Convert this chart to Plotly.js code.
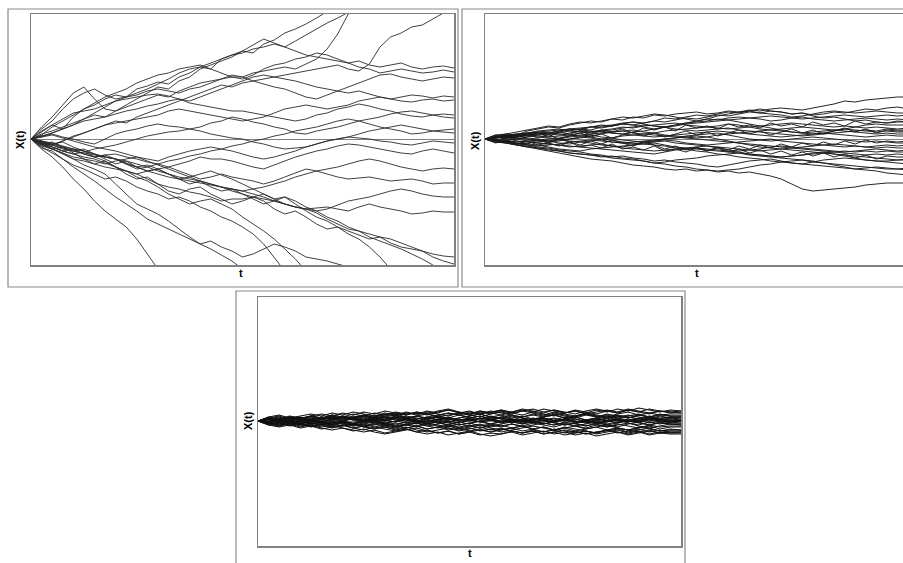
<!DOCTYPE html>
<html><head><meta charset="utf-8">
<script src="https://cdn.plot.ly/plotly-3.0.1.min.js"></script>
<style>html,body{margin:0;padding:0;background:#fff}#c{width:903px;height:563px}</style>
</head><body><div id="c"></div>
<script>
// time grid (t, arbitrary units 0..100)
const tGrid = [0,2.5,5,7.5,10,12.5,15,17.5,20,22.5,25,27.5,30,32.5,35,37.5,40,42.5,45,47.5,50,52.5,55,57.5,60,62.5,65,67.5,70,72.5,75,77.5,80,82.5,85,87.5,90,92.5,95,97.5,100];

// Panel 1: widest spread (values read in pixel-like units, 0 = start level)
const panel1Paths = [
 [0,8,14,10,22,30,34,40,44,42,50,53,57,55,62,66,72,70,80,84,88,86,95,99,106,110,115,121,128,134,140],
 [0,12,22,34,46,52,40,30,28,34,40,46,52,50,58,62,70,74,78,82,88,94,100,96,92,98,104,110,116,121,127,132,138],
 [0,5,8,12,16,20,24,22,28,32,36,40,44,42,48,52,56,58,60,64,62,66,68,70,72,70,75,80,90,105,125,135],
 [0,-6,-6,-2,3,6,10,14,18,16,22,26,30,34,38,42,46,50,54,52,56,58,60,62,64,66,68,70,72,74,70,68,75,92,102,106,112,114,120,126,134],
 [0,10,18,30,40,46,50,44,40,42,46,50,55,60,66,70,72,76,80,84,86,90,92,95,92,88,84,82,80,78,76,78,74,72,74,76,72,70,72,73,71],
 [0,4,12,18,24,30,36,42,46,50,56,60,64,66,70,72,74,70,66,62,60,64,70,74,76,80,82,86,84,80,76,72,70,66,68,70,68,66,67,69,67],
 [0,7,14,20,26,28,30,34,38,42,44,48,50,48,46,50,52,56,60,62,62,58,55,52,50,46,42,40,44,48,52,56,60,64,65,62,60,58,60,62,61],
 [0,2,6,10,14,18,20,22,25,28,30,33,35,38,40,38,42,46,50,54,58,62,64,62,60,58,55,52,50,48,46,48,45,42,40,42,44,43,41,43,42],
 [0,-4,-6,-2,2,6,10,14,16,18,20,22,24,28,30,28,26,24,22,20,18,20,22,26,30,32,34,32,30,32,34,38,40,42,40,38,37,39,40,38,39],
 [0,3,6,10,14,20,26,32,38,40,42,44,45,43,40,36,34,32,30,28,28,26,24,22,20,18,20,24,26,30,32,35,33,30,28,25,23,22,24,25,24],
 [0,-5,-8,-12,-15,-13,-10,-8,-6,-3,0,3,5,7,8,10,12,16,18,22,20,17,15,12,10,6,5,8,10,12,15,18,20,22,25,27,28,26,24,22,21],
 [0,-2,-6,-9,-12,-15,-18,-16,-15,-18,-20,-23,-25,-22,-20,-17,-15,-12,-10,-7,-5,-2,0,3,5,8,10,12,15,18,20,18,15,12,10,8,5,6,8,7,6],
 [0,3,5,2,0,-3,-5,0,5,8,10,13,15,13,12,10,8,5,3,1,0,-3,-5,-8,-10,-9,-8,-5,-2,0,2,1,0,-2,-3,-5,-6,-4,-2,-3,-4],
 [0,-4,-8,-12,-15,-18,-20,-24,-28,-32,-35,-32,-30,-28,-25,-22,-18,-20,-20,-22,-25,-28,-30,-26,-22,-18,-15,-12,-10,-7,-5,-6,-8,-10,-12,-14,-15,-12,-10,-12,-14],
 [0,-3,-5,-8,-10,-12,-15,-18,-20,-25,-30,-28,-25,-28,-32,-36,-40,-38,-35,-38,-40,-42,-45,-42,-38,-34,-30,-32,-35,-38,-40,-39,-38,-40,-42,-41,-40,-42,-45,-44,-44],
 [0,-7,-10,-15,-20,-22,-25,-28,-30,-32,-35,-40,-45,-48,-50,-53,-55,-58,-62,-60,-60,-58,-55,-60,-65,-68,-70,-69,-68,-70,-72,-68,-65,-68,-70,-72,-75,-74,-72,-73,-73],
 [0,-6,-10,-8,-14,-20,-25,-22,-28,-35,-40,-38,-45,-52,-55,-50,-48,-55,-60,-65,-62,-58,-62,-70,-75,-72,-78,-85,-90,-88,-92,-96,-100,-98,-104,-108,-110,-112,-115,-117,-118],
 [0,-10,-18,-28,-40,-50,-62,-72,-80,-88,-100,-115,-130],
 [0,-4,-10,-14,-20,-26,-30,-35,-45,-55,-65,-70,-75,-82,-90,-98,-105,-110,-116,-122,-130],
 [0,-8,-14,-20,-26,-30,-35,-40,-38,-42,-48,-52,-55,-60,-58,-62,-68,-72,-78,-82,-88,-95,-105,-118,-132],
 [0,-2,-5,-3,-8,-12,-18,-22,-28,-32,-38,-42,-48,-55,-60,-65,-62,-60,-65,-70,-78,-85,-92,-100,-110,-120,-132],
 [0,-5,-3,-8,-12,-10,-15,-20,-25,-22,-28,-32,-30,-35,-40,-45,-42,-48,-52,-50,-55,-60,-65,-62,-58,-65,-72,-78,-82,-88,-95,-100,-108,-118,-130],
 [0,-3,-8,-12,-10,-15,-18,-16,-20,-25,-28,-26,-30,-35,-40,-38,-35,-32,-36,-40,-45,-50,-55,-60,-58,-62,-68,-72,-78,-82,-88,-92,-98,-102,-106,-110,-115,-120,-126,-132],
 [0,-9,-12,-20,-28,-35,-42,-50,-58,-65,-72,-80,-85,-90,-95,-100,-105,-102,-108,-112,-118,-115,-110,-105,-108,-112,-118,-120,-122,-125,-128,-132],
 [0,-5,-10,-14,-18,-20,-22,-25,-22,-20,-18,-22,-26,-30,-34,-38,-42,-45,-48,-50,-52,-50,-48,-45,-42,-38,-35,-32,-30,-28,-25,-22,-20,-22,-25,-28,-30,-32,-30,-29,-30],
 [0,-3,-6,-10,-12,-14,-16,-18,-20,-24,-28,-32,-35,-38,-40,-42,-44,-46,-48,-50,-52,-55,-58,-62,-65,-68,-70,-72,-70,-66,-62,-60,-58,-55,-52,-50,-52,-55,-57,-58,-58],
 [0,2,4,1,-2,-5,-8,-10,-12,-15,-18,-20,-22,-18,-15,-12,-10,-8,-10,-12,-15,-18,-20,-18,-15,-12,-8,-5,-2,0,2,5,8,10,12,14,12,10,8,9,10],
 [0,-2,-4,-7,-10,-12,-15,-18,-20,-22,-25,-28,-32,-35,-38,-40,-42,-45,-48,-52,-55,-58,-60,-62,-65,-68,-70,-74,-80,-85,-90,-92,-95,-98,-100,-104,-108,-112,-118,-122,-125]
];

// Panel 2: medium spread
const panel2Paths = [
 [0,3,5,4,8,10,12,11,14,16,18,17,20,19,22,21,24,23,25,26,27,25,26,28,27,29,28,30,31,30,29,31,33,35,38,37,39,40,41,42,42],
 [0,-3,-4,-6,-8,-10,-12,-14,-16,-18,-20,-21,-22,-24,-26,-27,-28,-30,-31,-30,-32,-31,-33,-32,-34,-33,-35,-37,-40,-45,-50,-52,-51,-50,-49,-48,-46,-45,-44,-44,-44],
 [0,4,5,7,9,11,13,12,15,17,16,18,20,22,21,23,25,24,22,20,18,20,23,25,27,28,26,25,24,22,23,25,27,28,27,26,27,28,27,26,26],
 [0,1,3,2,4,6,5,7,9,10,12,11,13,15,14,12,10,12,14,16,18,20,19,21,22,21,20,18,19,21,22,20,19,18,19,20,21,20,19,20,19],
 [0,-1,-2,0,2,4,5,4,6,8,7,9,10,12,11,13,14,15,16,14,13,12,11,10,11,12,13,14,15,16,15,14,13,12,13,12,11,12,11,10,11],
 [0,2,4,3,1,0,-2,-4,-5,-3,-2,0,1,3,4,5,6,8,9,10,11,12,13,15,14,12,10,9,8,7,6,7,8,9,10,9,8,7,8,7,7],
 [0,-2,-3,-5,-4,-3,-2,-1,0,2,1,-1,-3,-4,-5,-3,-2,0,1,3,4,5,6,4,2,0,-1,-2,-1,0,1,2,1,0,-1,-2,-3,-2,-3,-4,-4],
 [0,1,2,0,-2,-4,-5,-6,-8,-7,-6,-5,-7,-9,-10,-11,-12,-11,-10,-9,-8,-7,-9,-11,-12,-11,-10,-8,-7,-8,-9,-10,-11,-12,-13,-12,-11,-10,-11,-12,-11],
 [0,-2,-3,-5,-6,-8,-9,-11,-12,-13,-15,-16,-18,-17,-19,-20,-22,-21,-23,-24,-25,-27,-28,-26,-24,-22,-21,-20,-22,-24,-25,-23,-21,-20,-19,-20,-21,-22,-22,-21,-21],
 [0,2,3,4,5,6,7,5,4,3,2,0,-1,-3,-4,-5,-6,-7,-9,-10,-12,-13,-15,-16,-18,-19,-20,-22,-23,-24,-25,-26,-27,-28,-29,-30,-29,-28,-29,-30,-29],
 [0,-3,-4,-6,-7,-9,-10,-12,-14,-15,-16,-17,-19,-20,-21,-22,-24,-25,-27,-28,-30,-31,-32,-31,-30,-28,-26,-25,-23,-22,-21,-22,-24,-26,-28,-30,-31,-32,-34,-35,-36],
 [0,1,2,3,4,5,6,8,10,11,12,13,14,16,17,15,13,12,14,16,17,18,20,19,17,15,13,11,9,7,6,5,6,8,10,12,14,15,14,14,14],
 [0,-1,-2,-3,-2,-1,0,1,3,4,5,6,7,8,6,5,4,3,2,1,0,-1,-2,-3,-4,-5,-6,-7,-8,-9,-10,-11,-12,-13,-14,-15,-16,-15,-16,-15,-16],
 [0,2,3,4,6,7,8,9,10,9,8,7,6,5,4,3,2,3,4,5,6,7,8,7,6,5,4,3,2,3,4,5,6,5,4,3,2,3,4,3,3],
 [0,-2,-3,-2,-3,-4,-5,-6,-7,-8,-9,-10,-11,-12,-13,-14,-15,-13,-11,-10,-9,-10,-11,-12,-13,-15,-16,-17,-18,-17,-16,-14,-13,-15,-17,-19,-21,-22,-23,-24,-25],
 [0,2,4,3,5,7,6,8,10,9,12,14,13,15,17,16,18,21,20,22,24,23,25,27,26,28,30,28,27,25,26,23,21,22,20,18,19,17,16,17,17],
 [0,-1,-2,-4,-5,-6,-8,-10,-11,-12,-10,-9,-8,-7,-6,-4,-3,-2,-4,-5,-6,-7,-8,-9,-10,-11,-12,-11,-10,-9,-8,-7,-6,-5,-6,-7,-8,-7,-6,-7,-6],
 [0,1,2,1,0,-1,-2,0,2,3,4,2,1,-1,-2,-3,-2,-1,-2,-4,-5,-6,-5,-4,-3,-2,-1,0,-2,-3,-4,-5,-6,-7,-8,-7,-8,-9,-8,-9,-9],
 [0,-2,-4,-6,-8,-9,-11,-12,-14,-15,-16,-18,-17,-19,-20,-22,-24,-23,-21,-20,-19,-17,-16,-15,-14,-16,-17,-18,-19,-20,-21,-23,-24,-25,-26,-27,-28,-29,-30,-30,-31],
 [0,2,4,5,6,4,5,6,8,10,9,12,13,15,14,16,18,17,19,21,20,22,24,23,25,27,26,28,27,25,26,24,25,27,26,28,30,29,31,32,30],
 [0,-1,1,2,3,2,1,0,-2,-3,-4,-6,-7,-8,-6,-5,-4,-6,-8,-9,-10,-11,-12,-13,-14,-15,-16,-17,-18,-17,-16,-15,-14,-13,-12,-13,-12,-13,-12,-13,-13],
 [0,2,3,1,0,-2,-3,-2,0,1,3,5,7,8,9,7,6,4,3,2,1,2,4,5,6,7,8,9,10,11,12,11,10,9,8,7,6,5,6,5,5],
 [0,1,3,5,6,8,9,10,8,7,6,8,9,11,12,14,13,12,10,9,8,9,10,11,9,8,7,6,5,4,3,4,5,6,7,8,9,8,10,9,9],
 [0,-1,-3,-4,-6,-7,-6,-5,-3,-2,-1,-2,-3,-4,-3,-2,-1,0,1,2,3,2,0,-2,-4,-6,-8,-9,-10,-11,-12,-13,-14,-15,-16,-17,-18,-19,-20,-21,-20],
 [0,2,1,3,4,3,2,3,4,6,7,8,6,5,7,8,10,12,13,15,16,17,18,19,20,21,22,23,22,21,20,21,22,23,24,23,22,23,24,23,24],
 [0,4,1,5,3,6,2,7,5,8,4,9,7,10,6,11,9,12,8,14,11,13,10,15,12,14,11,16,13,15,12,17,14,16,13,18,15,17,16,18,17],
 [0,-4,-1,-5,-2,-6,-4,-7,-3,-8,-6,-9,-5,-10,-8,-11,-7,-12,-10,-13,-9,-12,-8,-11,-7,-10,-6,-9,-5,-8,-4,-7,-3,-6,-2,-5,-1,-4,-2,-3,-2],
 [0,3,-1,2,5,1,4,0,3,6,2,5,1,4,7,3,6,2,5,8,4,7,3,6,9,5,8,4,7,10,6,9,5,8,11,7,10,6,9,8,8],
 [0,-3,1,-2,-5,-1,-4,0,-3,-6,-2,-5,-1,-4,-7,-3,-6,-10,-7,-11,-8,-12,-9,-13,-10,-14,-11,-15,-12,-16,-13,-17,-14,-18,-15,-19,-16,-20,-17,-18,-18]
];

// Panel 3: narrow spread
const panel3Paths = [
 [0,3,1,4,2,5,3,6,4,7,5,8,6,9,7,8,6,9,11,8,10,7,9,11,8,10,12,9,11,8,10,7,9,11,9,12,10,8,10,9,8],
 [0,-3,-1,-4,-2,-5,-3,-6,-4,-7,-9,-6,-8,-10,-8,-11,-9,-12,-10,-13,-11,-14,-12,-13,-10,-12,-9,-11,-8,-10,-12,-10,-13,-11,-9,-12,-10,-13,-11,-12,-12],
 [0,2,-1,1,3,0,2,4,1,3,0,2,4,6,3,5,2,4,1,3,5,7,4,6,3,5,2,4,6,3,5,7,4,6,3,5,7,4,6,5,5],
 [0,-2,1,-1,-3,0,-2,-4,-1,-3,-5,-2,-4,-6,-3,-5,-2,-4,-6,-3,-5,-7,-4,-6,-3,-5,-2,-4,-6,-3,-5,-7,-4,-6,-3,-5,-7,-4,-6,-5,-5],
 [0,3,5,2,4,1,3,5,2,4,6,3,5,7,4,2,4,1,3,0,2,-1,1,3,0,2,-1,1,3,0,2,-1,1,3,0,2,0,3,1,2,1],
 [0,-3,-5,-2,0,-3,-1,-4,-1,-3,0,-2,1,-1,2,0,-2,1,3,0,2,-1,1,-2,0,-3,-1,1,-1,2,0,-2,1,-1,2,0,3,1,2,0,1],
 [0,2,4,1,3,5,3,6,4,2,5,3,1,4,2,5,7,4,6,8,6,9,7,10,8,6,9,7,5,8,10,8,11,9,12,10,13,11,9,11,10],
 [0,-2,-4,-1,-3,-5,-3,-6,-4,-7,-5,-8,-6,-9,-7,-5,-8,-6,-9,-7,-10,-8,-11,-9,-7,-10,-8,-11,-9,-12,-10,-13,-11,-9,-12,-10,-8,-11,-9,-12,-11],
 [0,4,2,5,3,1,4,2,0,3,5,2,4,1,3,0,2,4,1,3,5,7,4,2,5,3,1,4,6,3,5,7,5,3,6,4,2,5,3,4,4],
 [0,-4,-2,-5,-3,-6,-4,-7,-5,-3,-6,-4,-2,-5,-7,-5,-8,-6,-4,-7,-5,-3,-6,-4,-7,-5,-8,-6,-9,-7,-5,-8,-6,-4,-7,-9,-7,-5,-8,-6,-6],
 [0,1,-2,0,2,-1,1,-2,0,-3,-1,1,-2,-4,-1,-3,0,-2,-4,-1,-3,0,2,-1,1,-2,0,-3,-1,-4,-2,0,-3,-1,1,-2,-4,-1,-3,-1,-2],
 [0,-2,1,3,0,2,4,2,5,3,6,4,7,5,8,6,9,7,5,8,6,4,7,9,7,10,8,6,9,7,5,8,6,4,7,9,6,8,6,7,7],
 [0,2,0,-2,0,-3,-1,-4,-2,-5,-3,-1,-4,-6,-4,-2,-5,-3,-1,-4,-2,0,-3,-5,-3,-6,-4,-2,-4,-1,-3,-5,-2,-4,-6,-3,-1,-4,-2,-3,-3],
 [0,-1,2,0,3,1,-1,2,0,3,1,4,2,5,3,1,-1,2,4,1,3,5,2,4,6,3,1,3,0,2,4,1,3,5,2,0,2,4,1,3,2],
 [0,2,-1,-3,0,-2,-4,-2,-5,-3,-6,-8,-5,-7,-4,-6,-3,-5,-7,-9,-7,-10,-8,-11,-9,-7,-5,-7,-9,-6,-8,-10,-12,-9,-7,-9,-6,-8,-10,-9,-9],
 [0,3,1,4,2,5,3,1,4,2,0,3,1,-1,2,0,3,5,3,6,4,2,5,3,1,4,6,4,7,5,3,6,4,7,5,3,6,4,7,5,5],
 [0,-2,0,-3,-1,1,-2,-4,-1,-3,0,2,0,3,1,-1,-3,-1,-4,-6,-4,-7,-5,-3,-1,-3,0,-2,-4,-2,-5,-3,-1,-4,-2,0,-2,-4,-1,-3,-3],
 [0,2,0,3,1,4,2,5,3,1,3,0,2,4,2,5,3,1,-1,2,0,3,1,4,2,0,3,1,-1,1,-2,0,2,0,-2,1,-1,2,0,-1,0],
 [0,-3,-5,-3,-6,-4,-7,-9,-7,-10,-8,-11,-13,-11,-9,-7,-10,-12,-10,-13,-11,-9,-11,-8,-10,-12,-10,-13,-11,-9,-11,-13,-11,-10,-8,-11,-9,-7,-10,-8,-9],
 [0,3,1,4,2,5,7,5,8,6,9,7,10,8,6,9,7,10,12,9,7,10,8,11,9,12,10,8,11,9,7,10,12,10,8,11,9,12,10,9,10],
 [0,-1,2,0,-2,1,-1,-3,0,2,-1,1,-2,0,2,-1,1,-2,0,-2,1,-1,-3,0,-2,1,-1,-3,0,2,-1,1,-2,0,2,-1,1,-2,0,-1,0],
 [0,-2,-4,-2,-5,-3,-6,-4,-7,-9,-11,-9,-12,-10,-8,-11,-13,-11,-14,-12,-10,-13,-15,-13,-11,-14,-12,-10,-13,-11,-14,-12,-15,-13,-11,-14,-12,-10,-12,-11,-11],
 [0,2,0,3,1,3,1,4,2,5,3,6,4,2,0,2,4,6,8,6,9,7,10,8,6,4,7,5,8,6,4,7,5,3,5,3,6,4,2,4,3],
 [0,-2,0,-2,-4,-2,-4,-1,-3,-5,-3,-6,-4,-2,-4,-2,-5,-7,-5,-8,-6,-4,-7,-9,-7,-5,-8,-6,-9,-7,-10,-8,-6,-9,-7,-9,-11,-9,-12,-10,-10],
 [0,2,-1,1,3,1,4,2,5,3,1,4,6,8,6,9,7,5,8,6,3,5,2,0,2,-1,1,3,0,2,4,1,3,0,2,4,2,0,2,0,1],
 [0,-2,1,-1,-3,-1,-3,0,-2,-4,-2,0,-3,-5,-3,-1,-3,0,-2,-4,-2,-5,-3,-1,1,-1,2,0,-2,-4,-2,-5,-3,-6,-4,-2,-5,-7,-5,-3,-4],
 [0,4,6,3,5,7,5,8,6,9,7,5,8,6,9,7,10,8,11,9,7,10,8,6,9,11,9,12,10,8,11,9,7,10,8,11,9,7,10,8,9],
 [0,-4,-6,-4,-7,-5,-8,-6,-4,-7,-5,-3,-6,-8,-6,-9,-11,-9,-7,-10,-8,-6,-9,-7,-10,-12,-10,-13,-11,-14,-12,-10,-12,-9,-11,-13,-11,-14,-12,-13,-13],
 [0,1,3,1,-1,1,-1,2,0,-2,1,-1,-3,0,-2,1,-1,2,0,-2,1,3,1,-1,2,0,-2,1,-1,2,0,-2,0,-3,-1,1,-1,2,0,1,0],
 [0,-1,-3,-1,1,-1,2,0,3,1,-1,2,0,3,5,3,1,4,2,0,3,1,4,2,-1,2,0,3,1,4,2,0,3,1,4,6,4,2,5,3,4]
];

const traces = [];
function addPanel(paths, xa, ya, col, w){
  paths.forEach(p => traces.push({
    x: tGrid, y: p, xaxis: xa, yaxis: ya, type: 'scatter', mode: 'lines',
    line: {color: col, width: w}, hoverinfo: 'skip', showlegend: false
  }));
}
addPanel(panel1Paths, 'x', 'y', '#2a2a2a', 0.9);
addPanel(panel2Paths, 'x2', 'y2', '#1a1a1a', 0.95);
addPanel(panel3Paths, 'x3', 'y3', '#111111', 1.05);

const W = 903, H = 563;
const px = v => v / W, py = v => 1 - v / H;
const axBase = {showline: true, mirror: true, linecolor: '#808080', linewidth: 1.5,
  showgrid: false, showticklabels: false, ticks: '', zeroline: false, fixedrange: true};
const yBase = Object.assign({}, axBase, {zeroline: true, zerolinecolor: '#808080', zerolinewidth: 1});
const lab = {family: 'Liberation Sans, Arial, sans-serif', size: 11, color: '#000'};
function ann(text, x, y, rot){
  return {text: '<b>' + text + '</b>', x: px(x), y: py(y), xref: 'paper', yref: 'paper',
    xanchor: 'center', yanchor: 'middle', textangle: rot, showarrow: false, font: lab};
}

const layout = {
  width: W, height: H, margin: {l: 0, r: 0, t: 0, b: 0},
  paper_bgcolor: '#fff', plot_bgcolor: '#fff', showlegend: false,
  xaxis: Object.assign({}, axBase, {domain: [px(31), px(454)], range: [0, 100], anchor: 'y'}),
  yaxis: Object.assign({}, yBase, {domain: [py(265), py(14)], range: [-126, 125], anchor: 'x'}),
  xaxis2: Object.assign({}, axBase, {domain: [px(485), 1], range: [0, 98.8], anchor: 'y2'}),
  yaxis2: Object.assign({}, yBase, {domain: [py(265), py(14)], range: [-126, 125], anchor: 'x2', mirror: false}),
  xaxis3: Object.assign({}, axBase, {domain: [px(258), px(681)], range: [0, 100], anchor: 'y3'}),
  yaxis3: Object.assign({}, yBase, {domain: [py(546), py(297)], range: [-125, 124], anchor: 'x3'}),
  shapes: [
    {type: 'rect', xref: 'paper', yref: 'paper', x0: px(8), x1: px(458), y0: py(287), y1: py(9), line: {color: '#8a8a8a', width: 1.2}},
    {type: 'rect', xref: 'paper', yref: 'paper', x0: px(462), x1: 1.02, y0: py(287), y1: py(9), line: {color: '#8a8a8a', width: 1.2}},
    {type: 'rect', xref: 'paper', yref: 'paper', x0: px(236), x1: px(685), y0: -0.02, y1: py(291), line: {color: '#8a8a8a', width: 1.2}}
  ],
  annotations: [
    ann('X(t)', 20, 140, -90), ann('X(t)', 475, 140, -90), ann('X(t)', 248, 421, -90),
    ann('t', 241, 273, 0), ann('t', 697, 273, 0), ann('t', 470, 553, 0)
  ]
};
Plotly.newPlot('c', traces, layout, {staticPlot: true, displayModeBar: false});
</script></body></html>
